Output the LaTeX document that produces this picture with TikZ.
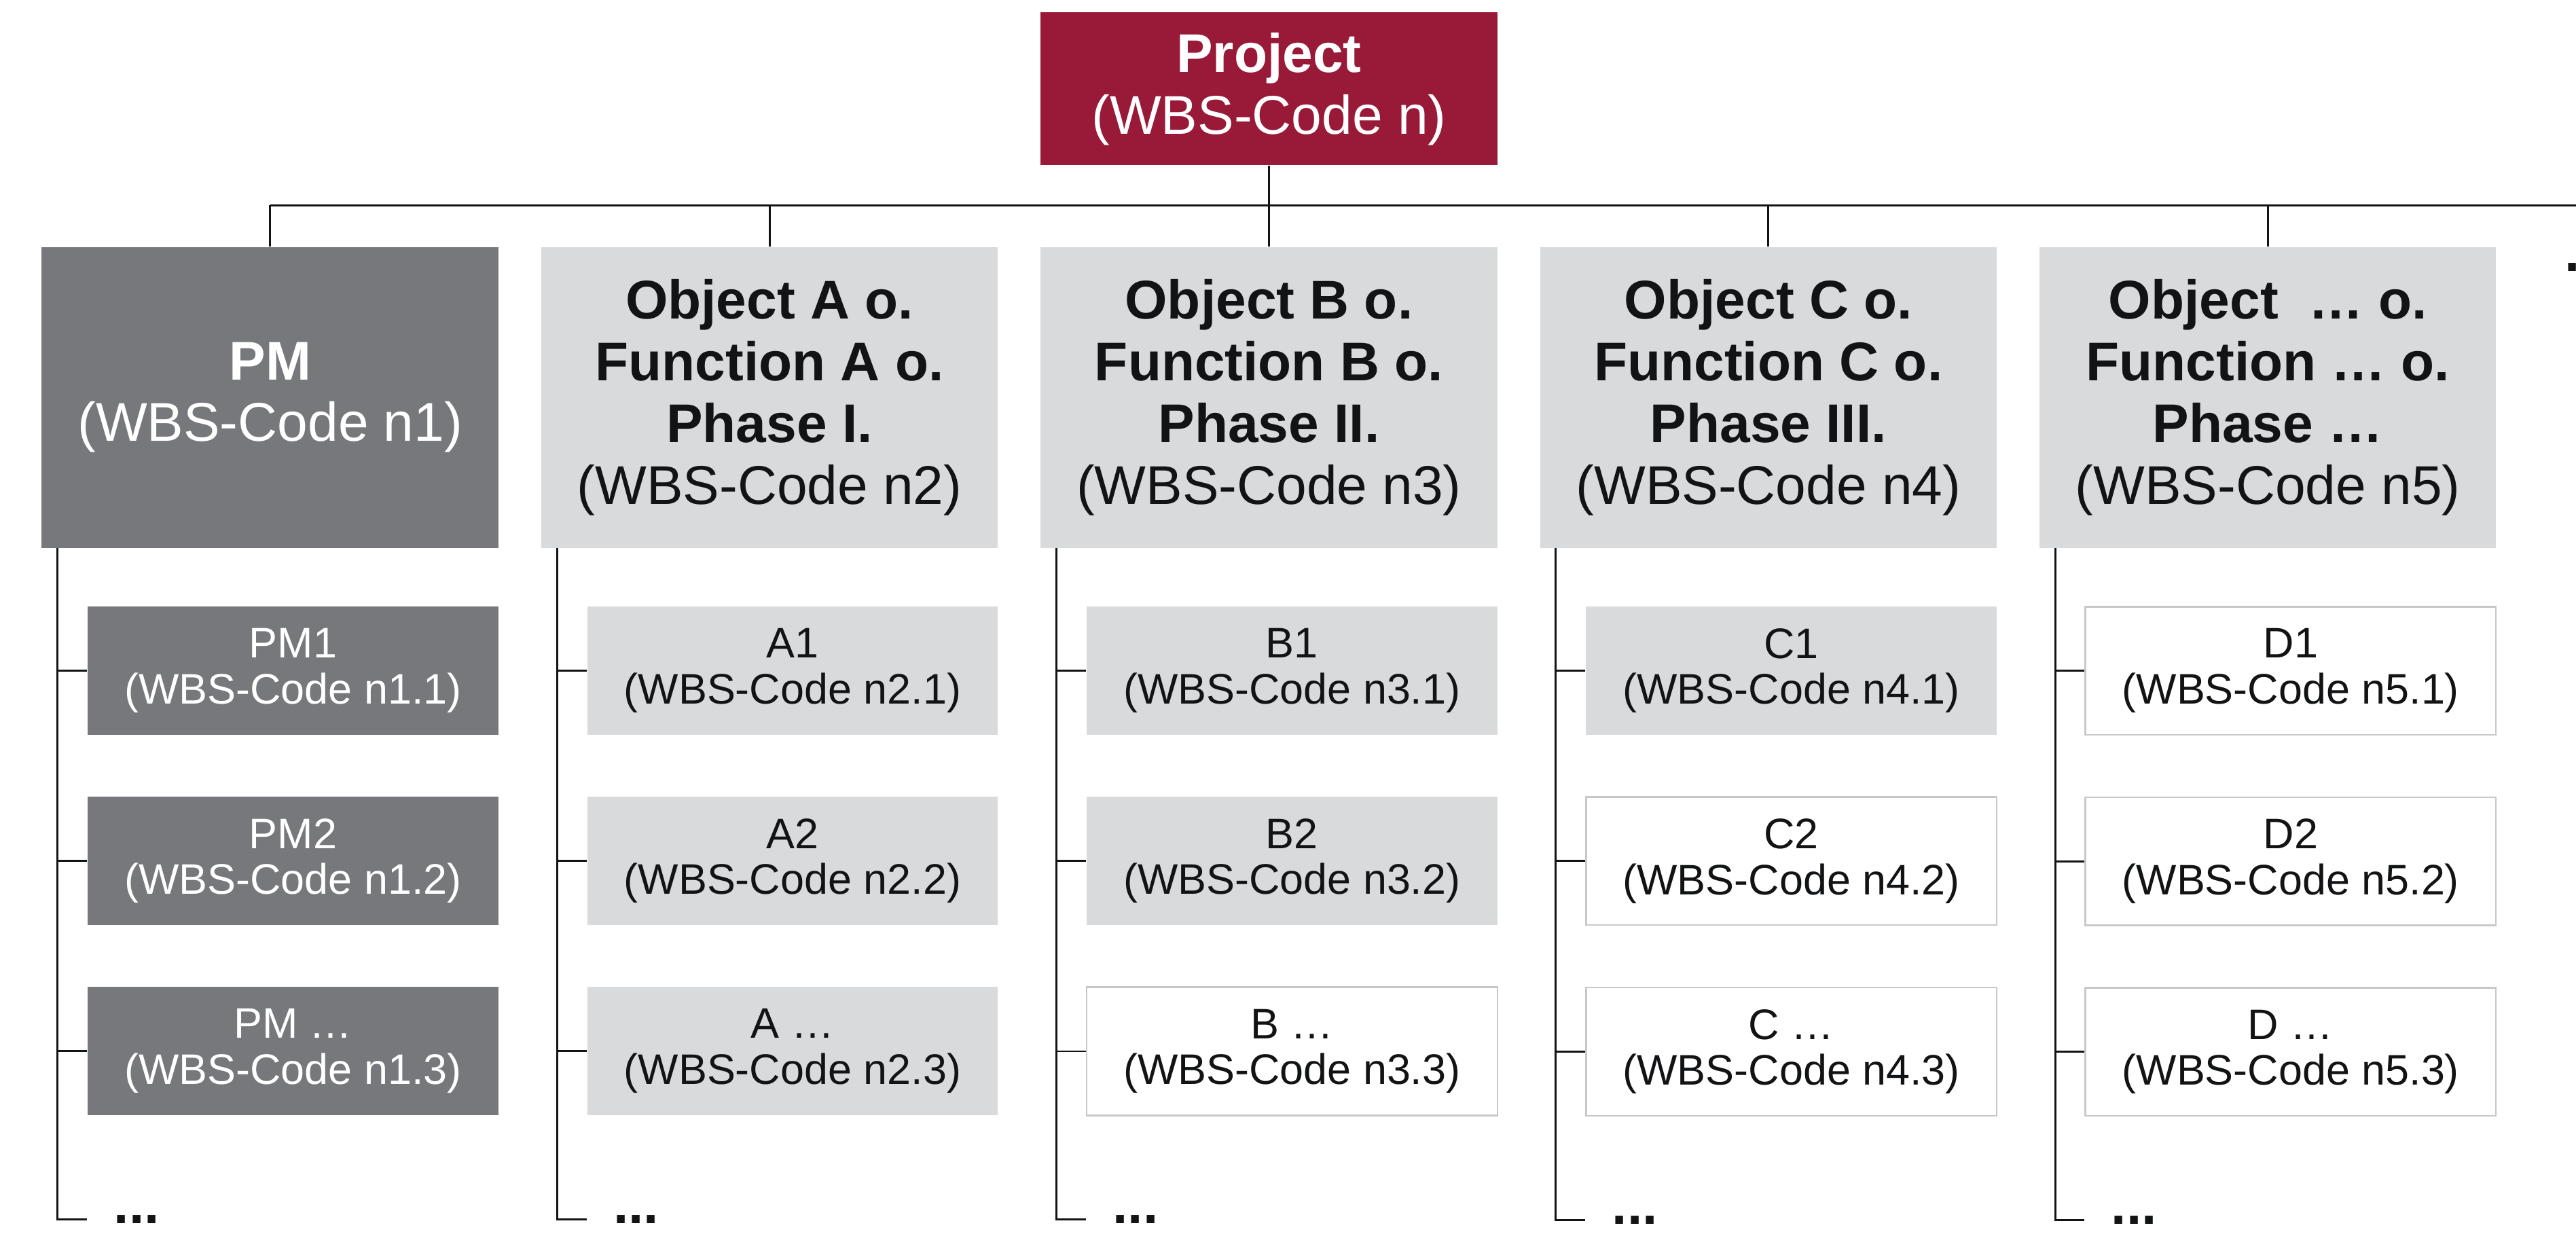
\documentclass[tikz,border=0pt]{standalone}
\usepackage{fontspec}
\setmainfont{Liberation Sans}
\usetikzlibrary{positioning,calc}

\definecolor{wbsred}{RGB}{152,26,56}
\definecolor{wbsdark}{RGB}{119,120,124}
\definecolor{wbslight}{RGB}{217,218,219}
\definecolor{wbsrule}{RGB}{200,200,200}
\definecolor{wbsink}{RGB}{17,19,21}

\begin{document}
\begin{tikzpicture}[
  lvlone/.style={minimum width=139pt, minimum height=91.5pt, inner sep=0pt, align=center,
    font=\fontsize{16.6}{18.75}\selectfont, text=wbsink, fill=wbslight},
  lvlonedark/.style={lvlone, fill=wbsdark, text=white},
  projbox/.style={lvlone, minimum height=46.5pt, fill=wbsred, text=white},
  pkg/.style={minimum width=125pt, minimum height=39pt, inner sep=0pt, align=center,
    font=\fontsize{13}{14}\selectfont, text=wbsink},
  pkgdark/.style={pkg, fill=wbsdark, text=white},
  pkglight/.style={pkg, fill=wbslight},
  pkgwhite/.style={pkg, fill=white, draw=wbsrule, line width=0.5pt},
  branch/.style={draw=wbsink, line width=0.6pt},
  ellip/.style={inner sep=0pt, font=\fontsize{16.6}{18.75}\selectfont\bfseries, text=wbsink}
]

  \useasboundingbox (0,0) rectangle (784pt,-375.5pt);

  \node[lvlonedark] (pm) at (12.5pt,-75pt) [anchor=north west] {\textbf{PM}\\(WBS-Code n1)};
  \node[lvlone] (oa) [right=12.6pt of pm] {\textbf{Object A o.}\\\textbf{Function A o.}\\\textbf{Phase I.}\\(WBS-Code n2)};
  \node[lvlone] (ob) [right=12.6pt of oa] {\textbf{Object B o.}\\\textbf{Function B o.}\\\textbf{Phase II.}\\(WBS-Code n3)};
  \node[lvlone] (oc) [right=12.6pt of ob] {\textbf{Object C o.}\\\textbf{Function C o.}\\\textbf{Phase III.}\\(WBS-Code n4)};
  \node[lvlone] (od) [right=12.6pt of oc] {\textbf{Object\ \ … o.}\\\textbf{Function … o.}\\\textbf{Phase …}\\(WBS-Code n5)};

  \node[projbox] (proj) [above=24.5pt of ob] {\textbf{Project}\\(WBS-Code n)};
  \node[ellip, anchor=base west] (cut) at (780.3pt,-82.5pt) {.};

  \node[pkgdark] (pm1) [below=17.5pt of pm.south east, anchor=north east] {PM1\\(WBS-Code n1.1)};
  \node[pkgdark] (pm2) [below=18.5pt of pm1] {PM2\\(WBS-Code n1.2)};
  \node[pkgdark] (pm3) [below=18.5pt of pm2] {PM …\\(WBS-Code n1.3)};

  \node[pkglight] (oa1) [below=17.5pt of oa.south east, anchor=north east] {A1\\(WBS-Code n2.1)};
  \node[pkglight] (oa2) [below=18.5pt of oa1] {A2\\(WBS-Code n2.2)};
  \node[pkglight] (oa3) [below=18.5pt of oa2] {A …\\(WBS-Code n2.3)};

  \node[pkglight] (ob1) [below=17.5pt of ob.south east, anchor=north east] {B1\\(WBS-Code n3.1)};
  \node[pkglight] (ob2) [below=18.5pt of ob1] {B2\\(WBS-Code n3.2)};
  \node[pkgwhite] (ob3) [below=18.5pt of ob2] {B …\\(WBS-Code n3.3)};

  \node[pkglight] (oc1) [below=17.5pt of oc.south east, anchor=north east] {C1\\(WBS-Code n4.1)};
  \node[pkgwhite] (oc2) [below=18.5pt of oc1] {C2\\(WBS-Code n4.2)};
  \node[pkgwhite] (oc3) [below=18.5pt of oc2] {C …\\(WBS-Code n4.3)};

  \node[pkgwhite] (od1) [below=17.5pt of od.south east, anchor=north east] {D1\\(WBS-Code n5.1)};
  \node[pkgwhite] (od2) [below=18.5pt of od1] {D2\\(WBS-Code n5.2)};
  \node[pkgwhite] (od3) [below=18.5pt of od2] {D …\\(WBS-Code n5.3)};

  \coordinate (busstart) at ($(pm.north)+(0,12.5pt)$);
  \coordinate (busend) at ($(busstart)+(702pt,0)$);
  \draw[branch] (busstart) -- (busend);
  \draw[branch] (proj) -- (ob);
  \foreach \c in {pm,oa,oc,od}
    \draw[branch] (\c.north) -- (\c.north |- busstart);

  \foreach \c in {pm,oa,ob,oc,od} {
    \coordinate (\c-top) at ($(\c.south west)+(5pt,0)$);
    \coordinate (\c-end) at ($(\c3.south west)+(0,-31.5pt)$);
    \draw[branch] (\c-top) |- (\c-end);
    \foreach \i in {1,2,3}
      \draw[branch] (\c-top |- \c\i.west) -- (\c\i.west);
    \node[ellip] (\c-more) [right=8pt of \c-end] {...};
  }

\end{tikzpicture}
\end{document}
